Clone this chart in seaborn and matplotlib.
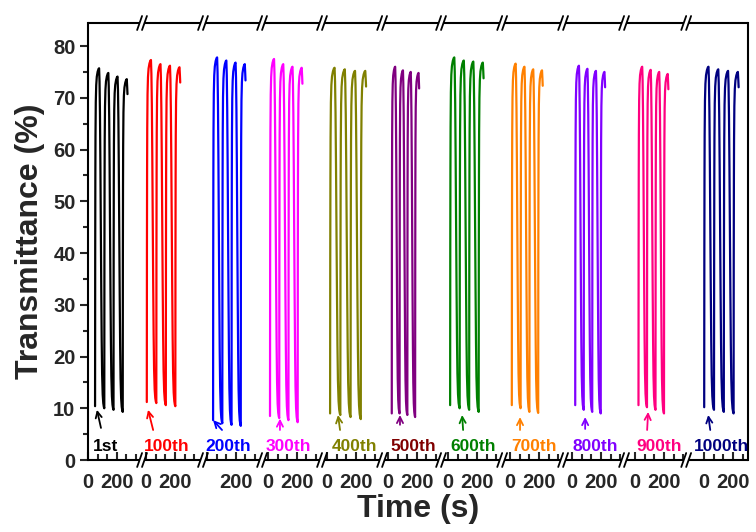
import numpy as np
import pandas as pd
import matplotlib
matplotlib.use("Agg")
import matplotlib.pyplot as plt
from matplotlib.transforms import blended_transform_factory
import seaborn as sns

# ---------------- data ----------------
cycle_names = ['1st', '100th', '200th', '300th', '400th', '500th',
               '600th', '700th', '800th', '900th', '1000th']

# peak transmittance (%) of the four switching cycles in each block
peaks = [
    [75.7, 74.8, 74.1, 73.6],
    [77.3, 76.5, 76.2, 75.9],
    [77.8, 77.2, 76.8, 76.5],
    [77.5, 76.5, 76.0, 75.8],
    [75.8, 75.5, 75.2, 75.2],
    [76.0, 75.3, 75.0, 74.8],
    [77.8, 77.2, 77.0, 76.8],
    [76.6, 76.0, 75.5, 75.3],
    [76.2, 75.6, 75.2, 75.0],
    [76.0, 75.4, 75.0, 74.6],
    [76.0, 75.5, 75.2, 75.0],
]
# bottom transmittance (%) at the start of each of the four rises
bottoms = [
    [10.4, 10.0, 9.7, 9.3],
    [11.2, 11.0, 10.6, 10.4],
    [7.7, 7.1, 6.8, 6.6],
    [8.5, 8.1, 7.7, 7.3],
    [9.0, 8.7, 8.3, 7.9],
    [9.0, 9.0, 8.7, 8.3],
    [10.6, 10.0, 9.7, 9.3],
    [10.6, 10.0, 9.3, 9.1],
    [10.6, 9.7, 9.3, 9.0],
    [10.6, 10.2, 9.7, 9.0],
    [10.2, 9.7, 9.3, 9.0],
]
# time of the first rise in each block (s) and switching period (s)
first_rise = [49, 5, 42, 14, 21, 26, 14, 12, 21, 23, 0]
periods = [64, 66, 64, 64, 71, 54, 66, 61, 59, 59, 68]

# one switching cycle (time in s for a 64 s period,
# fraction of the way from bottom to peak)
rise_t = [0, 1, 2, 3, 5, 8, 12, 18, 24, 28]
rise_f = [0, 0.45, 0.68, 0.80, 0.90, 0.95, 0.975, 0.99, 0.998, 1.0]
fall_t = [31, 34, 37, 40, 43, 46, 49, 53, 57, 61, 64]
fall_f = [0.96, 0.87, 0.72, 0.53, 0.35, 0.20, 0.10, 0.04, 0.015, 0.004, 0.0]
hook_t = [31, 33]
hook_f = [0.975, 0.955]

curve_colors = ['#000000', '#ff0000', '#0000ff', '#ff00ff', '#808000', '#800080',
                '#008000', '#ff8000', '#8000ff', '#ff0080', '#000080']
label_colors = ['#000000', '#ff0000', '#0000ff', '#ff00ff', '#808000', '#800000',
                '#008000', '#ff8000', '#8000ff', '#ff0080', '#000080']

x_tick_values = [0, 200]

# ---------------- layout (broken time axis) ----------------
seg_origin = [0, 403, 826, 1249, 1659, 2082, 2499, 2929, 3360, 3797, 4276]
breaks = [375, 798, 1208, 1624, 2041, 2450, 2874, 3297, 3720, 4151]
x_max = 4580
arrow_tip = [(62, 9.7), (14, 9.7), (42, 7.7), (83, 8.0), (76, 8.7), (83, 8.7),
             (97, 8.7), (69, 8.3), (90, 8.3), (90, 9.3), (28, 8.7)]
arrow_tail = [(90, 6.2), (49, 5.8), (104, 5.8), (83, 5.8), (90, 5.8), (83, 6.8),
              (104, 5.8), (69, 5.8), (90, 6.0), (83, 5.8), (42, 5.8)]
label_x = [125, 146, 146, 139, 187, 174, 174, 167, 160, 167, 118]

# ---------------- build long table ----------------
rows = []
for i, name in enumerate(cycle_names):
    sc = periods[i] / 64.0
    t0 = seg_origin[i] + first_rise[i]
    for c in range(4):
        cs = t0 + c * periods[i]
        b, p = bottoms[i][c], peaks[i][c]
        for tt, ff in zip(rise_t, rise_f):
            rows.append((name, cs + tt * sc, b + ff * (p - b)))
        if c < 3:
            nb = bottoms[i][c + 1]
            for tt, ff in zip(fall_t[:-1], fall_f[:-1]):
                rows.append((name, cs + tt * sc, nb + ff * (p - nb)))
        else:
            for tt, ff in zip(hook_t, hook_f):
                rows.append((name, cs + tt * sc, b + ff * (p - b)))
df = pd.DataFrame(rows, columns=['cycle', 'time', 'T'])

# ---------------- plot ----------------
sns.set_theme(style='ticks')
plt.rcParams['font.family'] = ['Liberation Sans', 'DejaVu Sans']
plt.rcParams['font.weight'] = 'bold'
plt.rcParams['axes.labelweight'] = 'bold'

fig = plt.figure(figsize=(7.56, 5.32), dpi=100)
ax = fig.add_axes([88 / 756, 72 / 532, 660 / 756, 437 / 532])

sns.lineplot(data=df, x='time', y='T', hue='cycle', palette=curve_colors,
             hue_order=cycle_names, sort=False, estimator=None, lw=1.6,
             legend=False, ax=ax)

ax.set_xlim(0, x_max)
ax.set_ylim(0, 84.45)

# y axis
ax.set_yticks(np.arange(0, 81, 10))
ax.set_yticks(np.arange(5, 81, 10), minor=True)
ax.tick_params(axis='y', which='major', direction='out', length=6, width=1.5,
               labelsize=14.5, pad=3, right=False)
ax.tick_params(axis='y', which='minor', direction='out', length=3.5, width=1.5,
               right=False)

# x axis ticks per segment
seg_end = breaks + [x_max]
major, labels, minor = [], [], []
for i, o in enumerate(seg_origin):
    for v in x_tick_values:
        major.append(o + v)
        labels.append('' if (i == 2 and v == 0) else str(v))
    for k in (1, 2, 4, 5):
        pos = o + k * 200 / 3
        if pos < seg_end[i] - 15:
            minor.append(pos)
ax.set_xticks(major)
ax.set_xticklabels(labels)
ax.set_xticks(minor, minor=True)
ax.tick_params(axis='x', which='major', direction='in', length=6, width=1.5,
               labelsize=14.5, pad=9, top=False)
ax.tick_params(axis='x', which='minor', direction='in', length=4, width=1.5,
               top=False)
for lab in ax.get_xticklabels() + ax.get_yticklabels():
    lab.set_fontweight('bold')

ax.set_xlabel('Time (s)', fontsize=23, fontweight='bold', labelpad=2)
ax.set_ylabel('Transmittance (%)', fontsize=23, fontweight='bold', labelpad=6)

# spines: left/right kept, top/bottom redrawn with breaks
for s in ('left', 'right'):
    ax.spines[s].set_linewidth(1.5)
    ax.spines[s].set_color('black')
ax.spines['top'].set_visible(False)
ax.spines['bottom'].set_visible(False)

tr = blended_transform_factory(ax.transData, ax.transAxes)
g = 17      # half gap (data units)
sdx = 17    # slash half width
sdy = 0.016 # slash half height (axes fraction)
starts = [0] + [b + g for b in breaks]
ends = [b - g for b in breaks] + [x_max]
for yy in (0, 1):
    for s0, s1 in zip(starts, ends):
        ax.plot([s0, s1], [yy, yy], color='black', lw=1.5, transform=tr,
                clip_on=False, solid_capstyle='butt')
    for b in breaks:
        for xc in (b - g, b + g):
            ax.plot([xc - sdx, xc + sdx], [yy - sdy, yy + sdy], color='black',
                    lw=1.3, transform=tr, clip_on=False)

# arrows and labels
for i, name in enumerate(cycle_names):
    o = seg_origin[i]
    ax.annotate('', xy=(o + arrow_tip[i][0], arrow_tip[i][1]),
                xytext=(o + arrow_tail[i][0], arrow_tail[i][1]),
                arrowprops=dict(arrowstyle='->', color=curve_colors[i], lw=1.3,
                                mutation_scale=11, shrinkA=0, shrinkB=0))
    ax.text(o + label_x[i], 1.75, name, color=label_colors[i], fontsize=12.5,
            fontweight='bold', ha='center', va='baseline')

fig.savefig('out.png', dpi=100)
